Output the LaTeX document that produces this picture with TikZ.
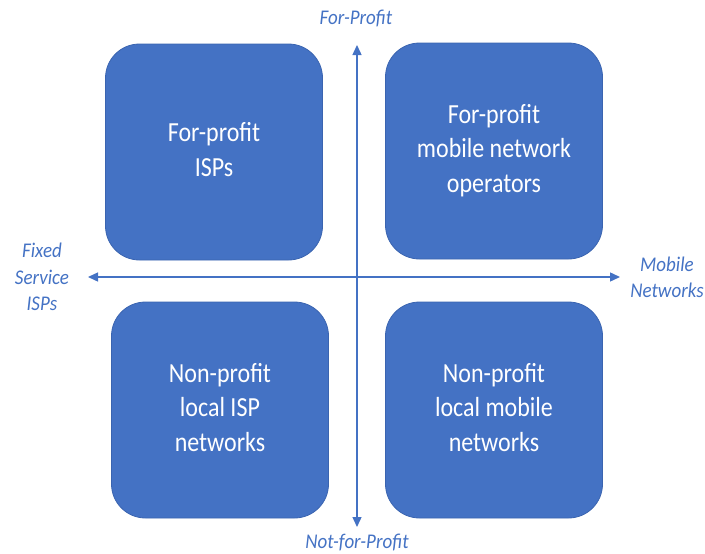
\documentclass[tikz,border=0pt]{standalone}
\usepackage{fontspec}
\usepackage{graphicx}
\setmainfont{Carlito}
\usetikzlibrary{arrows.meta}
\definecolor{boxblue}{HTML}{4472C4}
\definecolor{boxedge}{HTML}{3A64B0}
\definecolor{axisblue}{HTML}{4472C4}
\newcommand{\tallbox}[2]{\scalebox{1}[#1]{\begin{tabular}{@{}c@{}}#2\end{tabular}}}
\tikzset{
  quad/.style={draw=boxedge, line width=0.8pt, fill=boxblue, rounded corners=34pt,
    minimum width=217pt, minimum height=216pt, text=white, align=center,
    font=\fontsize{24pt}{30pt}\selectfont, inner sep=0pt},
  axis/.style={draw=axisblue, line width=1.4pt, {Triangle[length=10pt,width=9pt]}-{Triangle[length=10pt,width=9pt]}},
  axlabel/.style={text=axisblue, align=center, font=\fontsize{19pt}{24pt}\selectfont\itshape, inner sep=0pt}
}
\begin{document}
\begin{tikzpicture}[x=1pt,y=-1pt]
\useasboundingbox (0,0) rectangle (705,554);
\node[quad] (tl) at (214,152) {\tallbox{1.15}{For-profit\\ISPs}};
\node[quad] (tr) at (494,151) {\tallbox{1.15}{For-profit\\mobile network\\operators}};
\node[quad] (bl) at (220,410) {\tallbox{1.15}{Non-profit\\local ISP\\networks}};
\node[quad] (br) at (494,410) {\tallbox{1.15}{Non-profit\\local mobile\\networks}};
\coordinate (L) at (88,277);
\coordinate (R) at (620,277);
\coordinate (T) at (357,45);
\coordinate (B) at (357,527);
\draw[axis] (L) -- (R);
\draw[axis] (T) -- (B);
\node[axlabel] (top) at (356,19) {\tallbox{1.1}{For-Profit}};
\node[axlabel] (bot) at (357,543) {\tallbox{1.1}{Not-for-Profit}};
\node[axlabel] (left) at (42,279) {\tallbox{1.1}{Fixed\\Service\\ISPs}};
\node[axlabel] (right) at (667,279) {\tallbox{1.1}{Mobile\\Networks}};
\end{tikzpicture}
\end{document}
